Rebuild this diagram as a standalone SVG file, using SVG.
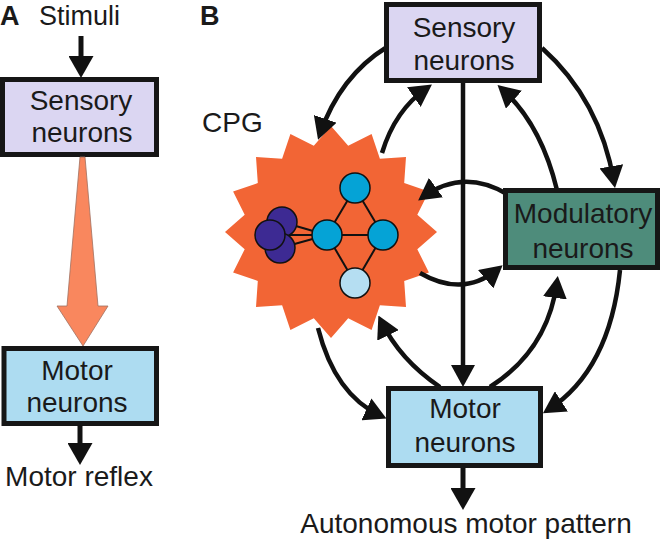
<svg xmlns="http://www.w3.org/2000/svg" width="661" height="542" viewBox="0 0 661 542">
<style>
  text { font-family: "Liberation Sans", Arial, sans-serif; font-size: 28px; fill: #1a1a1a; }
  .lbl { text-anchor: middle; }
  .bold { font-weight: bold; }
  .box { stroke: #161616; stroke-width: 5; }
  .sens { fill: #DBD6F2; }
  .mot { fill: #ADDCF1; }
  .mod { fill: #4E8C7B; }
  .conn { fill: none; stroke: #111; stroke-width: 4.5; }
  .connS { fill: none; stroke: #111; stroke-width: 5; }
  .edge { stroke: #111; stroke-width: 2; }
  .cell { stroke: #111; stroke-width: 1.5; }
</style>
<defs>
  <marker id="head" markerUnits="userSpaceOnUse" viewBox="0 0 22 24" refX="16" refY="12" markerWidth="22" markerHeight="24" orient="auto">
    <path d="M0,0 L22,12 L0,24 z" fill="#111"/>
  </marker>
  <marker id="headS" markerUnits="userSpaceOnUse" viewBox="0 0 22 25" refX="16" refY="12.5" markerWidth="22" markerHeight="25" orient="auto">
    <path d="M0,0 L22,12.5 L0,25 z" fill="#111"/>
  </marker>
</defs>

<rect width="661" height="542" fill="#fff"/>

<!-- Panel A -->
<g id="panelA-label">
  <text class="bold" x="0" y="25" style="font-size:27px">A</text>
  <text x="39" y="25" style="font-size:27px">Stimuli</text>
</g>
<g id="A-sensory">
  <rect class="box sens" x="2.5" y="79.5" width="154" height="75"/>
  <text class="lbl" x="81" y="110">Sensory</text>
  <text class="lbl" x="82" y="142">neurons</text>
</g>
<g id="A-motor">
  <rect class="box mot" x="4" y="348.5" width="152.5" height="75"/>
  <text class="lbl" x="77" y="380">Motor</text>
  <text class="lbl" x="77" y="412">neurons</text>
</g>
<g id="A-output">
  <text class="lbl" x="79" y="486">Motor reflex</text>
</g>
<g id="A-connectors">
  <path class="connS" d="M81 36 L81 72" marker-end="url(#headS)"/>
  <polygon points="80,157 85,157 98,306 108,306 83,346 57,306 67,306" fill="#F9875E" stroke="#a07060" stroke-width="0.8"/>
  <path class="connS" d="M80 425 L80 459" marker-end="url(#headS)"/>
</g>

<!-- Panel B -->
<g id="panelB-label">
  <text class="bold" x="200" y="25" style="font-size:27px">B</text>
</g>
<g id="CPG">
  <text x="202" y="132">CPG</text>
  <polygon fill="#F26535" points="437,232 417.3,249.2 428.9,272.6 404.2,280.9 406,307 379.9,305.2 371.6,329.9 348.2,318.3 331,338 313.8,318.3 290.4,329.9 282.1,305.2 256,307 257.8,280.9 233.1,272.6 244.7,249.2 225,232 244.7,214.8 233.1,191.4 257.8,183.1 256,157 282.1,158.8 290.4,134.1 313.8,145.7 331,126 348.2,145.7 371.6,134.1 379.9,158.8 406,157 404.2,183.1 428.9,191.4 417.3,214.8"/>
  <line class="edge" x1="282" y1="222" x2="327" y2="235"/>
  <line class="edge" x1="270" y1="235" x2="327" y2="235"/>
  <line class="edge" x1="280" y1="248" x2="327" y2="235"/>
  <line class="edge" x1="327" y1="235" x2="355" y2="188"/>
  <line class="edge" x1="327" y1="235" x2="383" y2="235"/>
  <line class="edge" x1="327" y1="235" x2="355" y2="283"/>
  <line class="edge" x1="355" y1="188" x2="383" y2="235"/>
  <line class="edge" x1="383" y1="235" x2="355" y2="283"/>
  <circle class="cell" cx="282" cy="222" r="15" fill="#3D2A93"/>
  <circle class="cell" cx="280" cy="248" r="15" fill="#3D2A93"/>
  <circle class="cell" cx="270" cy="235" r="15" fill="#3D2A93"/>
  <circle class="cell" cx="327" cy="235" r="15" fill="#05A3D6"/>
  <circle class="cell" cx="355" cy="188" r="15" fill="#05A3D6"/>
  <circle class="cell" cx="383" cy="235" r="15" fill="#05A3D6"/>
  <circle class="cell" cx="355" cy="283" r="15" fill="#B5DEF2"/>
</g>
<g id="B-connectors">
  <path class="conn" d="M387 47 Q340 76 320 134" marker-end="url(#head)"/>
  <path class="conn" d="M382 153 Q395 110 427 88" marker-end="url(#head)"/>
  <path class="conn" d="M557 190 Q541 124 502 89" marker-end="url(#head)"/>
  <path class="conn" d="M542 48 Q600 100 614 182" marker-end="url(#head)"/>
  <path class="conn" d="M507 194 Q463 168 423 197" marker-end="url(#head)"/>
  <path class="conn" d="M420 273 Q463 298 498 269" marker-end="url(#head)"/>
  <path class="conn" d="M440 387 Q400 360 381 321" marker-end="url(#head)"/>
  <path class="conn" d="M490 387 Q548 350 557 282" marker-end="url(#head)"/>
  <path class="conn" d="M318 328 Q335 395 381 416" marker-end="url(#head)"/>
  <path class="conn" d="M620 270 Q610 370 548 410" marker-end="url(#head)"/>
  <path class="conn" d="M463 83 L463 381" marker-end="url(#head)"/>
  <path class="connS" d="M463 468 L463 504" marker-end="url(#headS)"/>
</g>
<g id="B-sensory">
  <rect class="box sens" x="386.5" y="4.5" width="153" height="76"/>
  <text class="lbl" x="464" y="37">Sensory</text>
  <text class="lbl" x="464" y="70">neurons</text>
</g>
<g id="B-modulatory">
  <rect class="box mod" x="505.5" y="190.5" width="152" height="77"/>
  <text class="lbl" x="583" y="223">Modulatory</text>
  <text class="lbl" x="583" y="258">neurons</text>
</g>
<g id="B-motor">
  <rect class="box mot" x="388.5" y="388.5" width="152" height="77"/>
  <text class="lbl" x="465" y="418">Motor</text>
  <text class="lbl" x="465" y="452">neurons</text>
</g>
<g id="B-output">
  <text class="lbl" x="466" y="533">Autonomous motor pattern</text>
</g>
</svg>
